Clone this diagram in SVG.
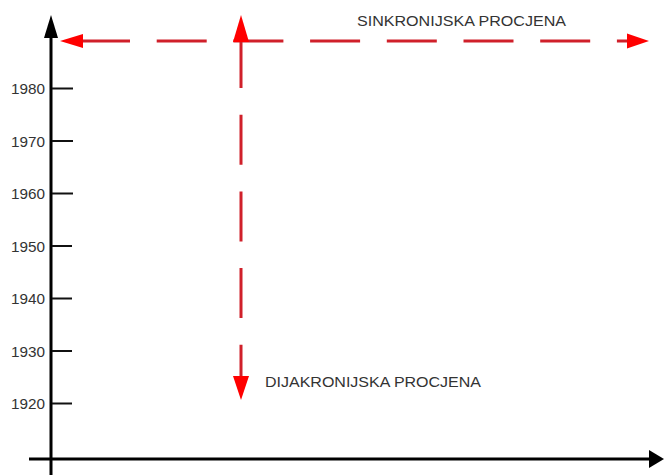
<svg xmlns="http://www.w3.org/2000/svg" width="664" height="475" viewBox="0 0 664 475">
<style>
.axis{stroke:#000;stroke-width:3;fill:none}
.tick{stroke:#111;stroke-width:2}
.yr{font-family:"Liberation Sans",Arial,sans-serif;font-size:14.5px;fill:#333;text-anchor:end}
.lbl{font-family:"Liberation Sans",Arial,sans-serif;font-size:15px;fill:#333}
.red{stroke:#d0202a;stroke-width:3;fill:none;stroke-dasharray:50 26.7}
.head{fill:#ff0000}
</style>
<rect width="664" height="475" fill="#fff"/>
<g id="axes">
  <line class="axis" x1="51" y1="475" x2="51" y2="36"/>
  <polygon points="51,15 44,38 58,38" fill="#000"/>
  <line class="axis" x1="29" y1="459" x2="650" y2="459"/>
  <polygon points="664,459 649,450 649,468" fill="#000"/>
</g>
<g id="ticks">
  <line class="tick" x1="52" y1="88.5" x2="73" y2="88.5"/>
  <line class="tick" x1="52" y1="141" x2="73" y2="141"/>
  <line class="tick" x1="52" y1="193.5" x2="73" y2="193.5"/>
  <line class="tick" x1="52" y1="246" x2="72" y2="246"/>
  <line class="tick" x1="52" y1="298.5" x2="72" y2="298.5"/>
  <line class="tick" x1="52" y1="351" x2="72" y2="351"/>
  <line class="tick" x1="52" y1="403.5" x2="72" y2="403.5"/>
  <text class="yr" x="45" y="94" textLength="34" lengthAdjust="spacingAndGlyphs">1980</text>
  <text class="yr" x="45" y="146.5" textLength="34" lengthAdjust="spacingAndGlyphs">1970</text>
  <text class="yr" x="45" y="199" textLength="34" lengthAdjust="spacingAndGlyphs">1960</text>
  <text class="yr" x="45" y="251.5" textLength="34" lengthAdjust="spacingAndGlyphs">1950</text>
  <text class="yr" x="45" y="304" textLength="34" lengthAdjust="spacingAndGlyphs">1940</text>
  <text class="yr" x="45" y="356.5" textLength="34" lengthAdjust="spacingAndGlyphs">1930</text>
  <text class="yr" x="45" y="409" textLength="34" lengthAdjust="spacingAndGlyphs">1920</text>
</g>
<g id="connectors">
  <g id="sinkronijska">
    <line class="red" x1="80" y1="41" x2="630" y2="41"/>
    <polygon class="head" points="60,41 83,34 83,48"/>
    <polygon class="head" points="649,41 627,33.5 627,48.5"/>
  </g>
  <g id="dijakronijska">
    <line class="red" x1="241" y1="38" x2="241" y2="380"/>
    <polygon class="head" points="241,15 233,42 249,42"/>
    <polygon class="head" points="241,400 233,376 249,376"/>
  </g>
</g>
<g id="label-sinkronijska">
  <text class="lbl" x="357" y="26" textLength="209" lengthAdjust="spacingAndGlyphs">SINKRONIJSKA PROCJENA</text>
</g>
<g id="label-dijakronijska">
  <text class="lbl" x="265" y="387" textLength="216" lengthAdjust="spacingAndGlyphs">DIJAKRONIJSKA PROCJENA</text>
</g>
</svg>
